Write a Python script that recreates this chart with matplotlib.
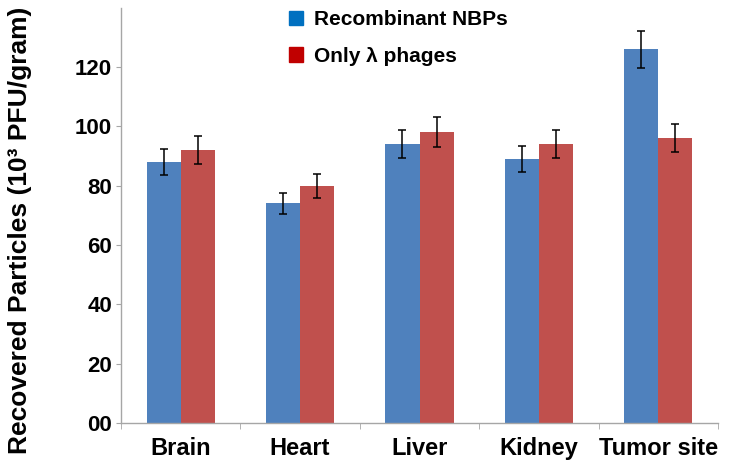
import matplotlib
matplotlib.use("Agg")
import matplotlib.pyplot as plt
import numpy as np
from matplotlib.patches import Patch

categories = ["Brain", "Heart", "Liver", "Kidney", "Tumor site"]
nbp_values = [88, 74, 94, 89, 126]
nbp_errors = [4.4, 3.7, 4.7, 4.4, 6.3]
phage_values = [92, 80, 98, 94, 96]
phage_errors = [4.6, 4.1, 5.0, 4.7, 4.8]
ytick_values = [0, 20, 40, 60, 80, 100, 120]
ytick_labels = ["00", "20", "40", "60", "80", "100", "120"]
series_names = ["Recombinant NBPs", "Only \u03bb phages"]

plt.rcParams['font.family'] = ['Liberation Sans', 'DejaVu Sans']
plt.rcParams['font.weight'] = 'bold'

fig = plt.figure(figsize=(7.49, 4.68), dpi=100)
ax = fig.add_axes([121/749, 1-423/468, (718-121)/749, (423-7.7)/468])

x = np.arange(len(categories))
w = 0.285
axis_col = '#A6A6A6'
ax.bar(x - w/2, nbp_values, w, color='#4F81BD', zorder=2)
ax.bar(x + w/2, phage_values, w, color='#C0504D', zorder=2)
ax.errorbar(x - w/2, nbp_values, yerr=nbp_errors, fmt='none', ecolor='black',
            elinewidth=1.1, capsize=3.2, capthick=1.1, zorder=3)
ax.errorbar(x + w/2, phage_values, yerr=phage_errors, fmt='none', ecolor='black',
            elinewidth=1.1, capsize=3.2, capthick=1.1, zorder=3)

ax.set_xlim(-0.5, len(categories) - 0.5)
ax.set_ylim(0, 140)
ax.set_yticks(ytick_values)
ax.set_yticklabels(ytick_labels, fontsize=16, fontweight='bold')
ax.set_xticks(x)
ax.set_xticklabels(categories, fontsize=17, fontweight='bold')
ax.set_xticks(np.arange(len(categories) + 1) - 0.5, minor=True)
ax.tick_params(axis='x', which='major', length=0, pad=10)
ax.tick_params(axis='x', which='minor', length=4, color=axis_col, direction='out')
ax.tick_params(axis='y', length=3.5, color=axis_col, pad=3)

for s in ['top', 'right']:
    ax.spines[s].set_visible(False)
for s in ['left', 'bottom']:
    ax.spines[s].set_color(axis_col)
    ax.spines[s].set_linewidth(1.0)

fig.text(27/749, 1 - 230.5/468, "Recovered Particles (10\u00b3 PFU/gram)", fontsize=19,
         fontweight='bold', rotation=90, rotation_mode='anchor', ha='center', va='baseline')

handles = [Patch(color='#0070C0'), Patch(color='#C00000')]
leg = ax.legend(handles, series_names, loc='upper left', bbox_to_anchor=(276/749, 1.005),
                bbox_transform=fig.transFigure, frameon=False, fontsize=15,
                handlelength=0.7, handleheight=0.7, handletextpad=0.5, labelspacing=0.85,
                borderaxespad=0.2)
for t in leg.get_texts():
    t.set_fontweight('bold')

fig.savefig("out.png", dpi=100)
